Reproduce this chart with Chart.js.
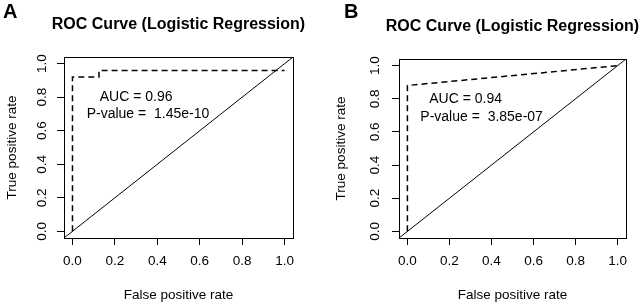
<!DOCTYPE html>
<html>
<head>
<meta charset="utf-8">
<script src="https://cdn.jsdelivr.net/npm/chart.js@4.4.0/dist/chart.umd.min.js"></script>
<style>
  html, body { margin: 0; padding: 0; background: #fff; }
  .panel { position: absolute; top: 0; width: 321px; height: 306px; }
  #panelA { left: 0; }
  #panelB { left: 322px; }
</style>
</head>
<body>
<div class="panel" id="panelA"><canvas id="rocA" width="321" height="306"></canvas></div>
<div class="panel" id="panelB"><canvas id="rocB" width="321" height="306"></canvas></div>
<script>
(function () {
    'use strict';

    const FONT = "'Liberation Sans', Arial, sans-serif";

    // ticks shared by both axes, and R-style axis range (4% extension)
    const rateTicks = [0, 0.2, 0.4, 0.6, 0.8, 1.0];
    const axisRange = [-0.04, 1.04];

    const titleText = "ROC Curve (Logistic Regression)";
    const xTitle = "False positive rate";
    const yTitle = "True positive rate";

    // panel A
    const fprA = [0, 0, 0.125, 0.125, 1];
    const tprA = [0, 0.92, 0.92, 0.96, 0.96];
    const aucA = "AUC = 0.96";
    const pvalA = "P-value =  1.45e-10";

    // panel B
    const fprB = [0, 0, 1];
    const tprB = [0, 0.88, 1];
    const aucB = "AUC = 0.94";
    const pvalB = "P-value =  3.85e-07";

    // box, rotated y tick labels, title, panel letter, AUC text
    const rocDecor = {
        id: "rocDecor",
        afterDraw(chart, args, opts) {
            const ctx = chart.ctx;
            const a = chart.chartArea;
            const xs = chart.scales.x;
            const ys = chart.scales.y;
            ctx.save();

            ctx.strokeStyle = "#000";
            ctx.lineWidth = 1;
            ctx.strokeRect(Math.round(a.left) + 0.5, Math.round(a.top) + 0.5,
                Math.round(a.right - a.left), Math.round(a.bottom - a.top));

            ctx.fillStyle = "#000";
            ctx.font = `13.5px ${FONT}`;
            ctx.textAlign = "center";
            ctx.textBaseline = "middle";
            rateTicks.forEach(v => {
                ctx.save();
                ctx.translate(a.left - opts.yLabelGap, ys.getPixelForValue(v));
                ctx.rotate(-Math.PI / 2);
                ctx.fillText(v.toFixed(1), 0, 0);
                ctx.restore();
            });

            ctx.font = `bold 16px ${FONT}`;
            ctx.fillText(titleText, (a.left + a.right) / 2, opts.titleY);

            ctx.font = `bold 20px ${FONT}`;
            ctx.textAlign = "left";
            ctx.textBaseline = "alphabetic";
            ctx.fillText(opts.letter, opts.letterX, 18);

            ctx.font = `14px ${FONT}`;
            ctx.textAlign = "center";
            ctx.textBaseline = "middle";
            opts.notes.forEach(n => {
                ctx.fillText(n.text, xs.getPixelForValue(n.x), ys.getPixelForValue(n.y));
            });

            ctx.restore();
        }
    };

    function rateAxis(title, titlePad, fit, isX) {
        return {
            type: "linear",
            min: axisRange[0],
            max: axisRange[1],
            afterBuildTicks: s => { s.ticks = rateTicks.map(v => ({ value: v })); },
            grid: { drawOnChartArea: false, drawTicks: true, tickLength: 7, color: "#000", lineWidth: 1 },
            border: { display: false },
            ticks: {
                display: isX,
                color: "#000",
                padding: 8,
                font: { family: FONT, size: 13.5 },
                callback: v => Number(v).toFixed(1)
            },
            title: {
                display: true,
                text: title,
                color: "#000",
                font: { family: FONT, size: 13.5 },
                padding: titlePad
            },
            afterFit: s => {
                if (isX) s.height = fit; else s.width = fit;
            }
        };
    }

    function drawRoc(canvasId, fpr, tpr, cfg) {
        const ctx = document.getElementById(canvasId);
        const curve = fpr.map((x, i) => ({ x: x, y: tpr[i] }));
        return new Chart(ctx, {
            type: "line",
            data: {
                datasets: [
                    {
                        data: curve,
                        borderColor: "#000",
                        borderWidth: 1.5,
                        borderDash: [6, 4],
                        pointRadius: 0,
                        tension: 0,
                        fill: false
                    },
                    {
                        data: [{ x: axisRange[0], y: axisRange[0] }, { x: axisRange[1], y: axisRange[1] }],
                        borderColor: "#000",
                        borderWidth: 1,
                        pointRadius: 0,
                        fill: false
                    }
                ]
            },
            options: {
                responsive: false,
                animation: false,
                devicePixelRatio: 1,
                layout: { padding: cfg.padding },
                plugins: {
                    legend: { display: false },
                    tooltip: { enabled: false },
                    title: { display: false },
                    rocDecor: cfg.decor
                },
                scales: {
                    x: rateAxis(xTitle, { top: 0, bottom: 3 }, cfg.xHeight, true),
                    y: rateAxis(yTitle, { top: cfg.yTitlePad, bottom: 0 }, cfg.yWidth, false)
                }
            },
            plugins: [rocDecor]
        });
    }

    drawRoc("rocA", fprA, tprA, {
        padding: { left: 0, right: 28, top: 57, bottom: 0 },
        xHeight: 68,
        yWidth: 64,
        yTitlePad: 4,
        decor: {
            letter: "A", letterX: 3, titleY: 25, yLabelGap: 22,
            notes: [{ text: aucA, x: 0.30, y: 0.80 }, { text: pvalA, x: 0.356, y: 0.70 }]
        }
    });

    drawRoc("rocB", fprB, tprB, {
        padding: { left: 0, right: 17, top: 59, bottom: 0 },
        xHeight: 68,
        yWidth: 77,
        yTitlePad: 11,
        decor: {
            letter: "B", letterX: 22, titleY: 27, yLabelGap: 24,
            notes: [{ text: aucB, x: 0.277, y: 0.80 }, { text: pvalB, x: 0.353, y: 0.69 }]
        }
    });
})();
</script>
</body>
</html>
